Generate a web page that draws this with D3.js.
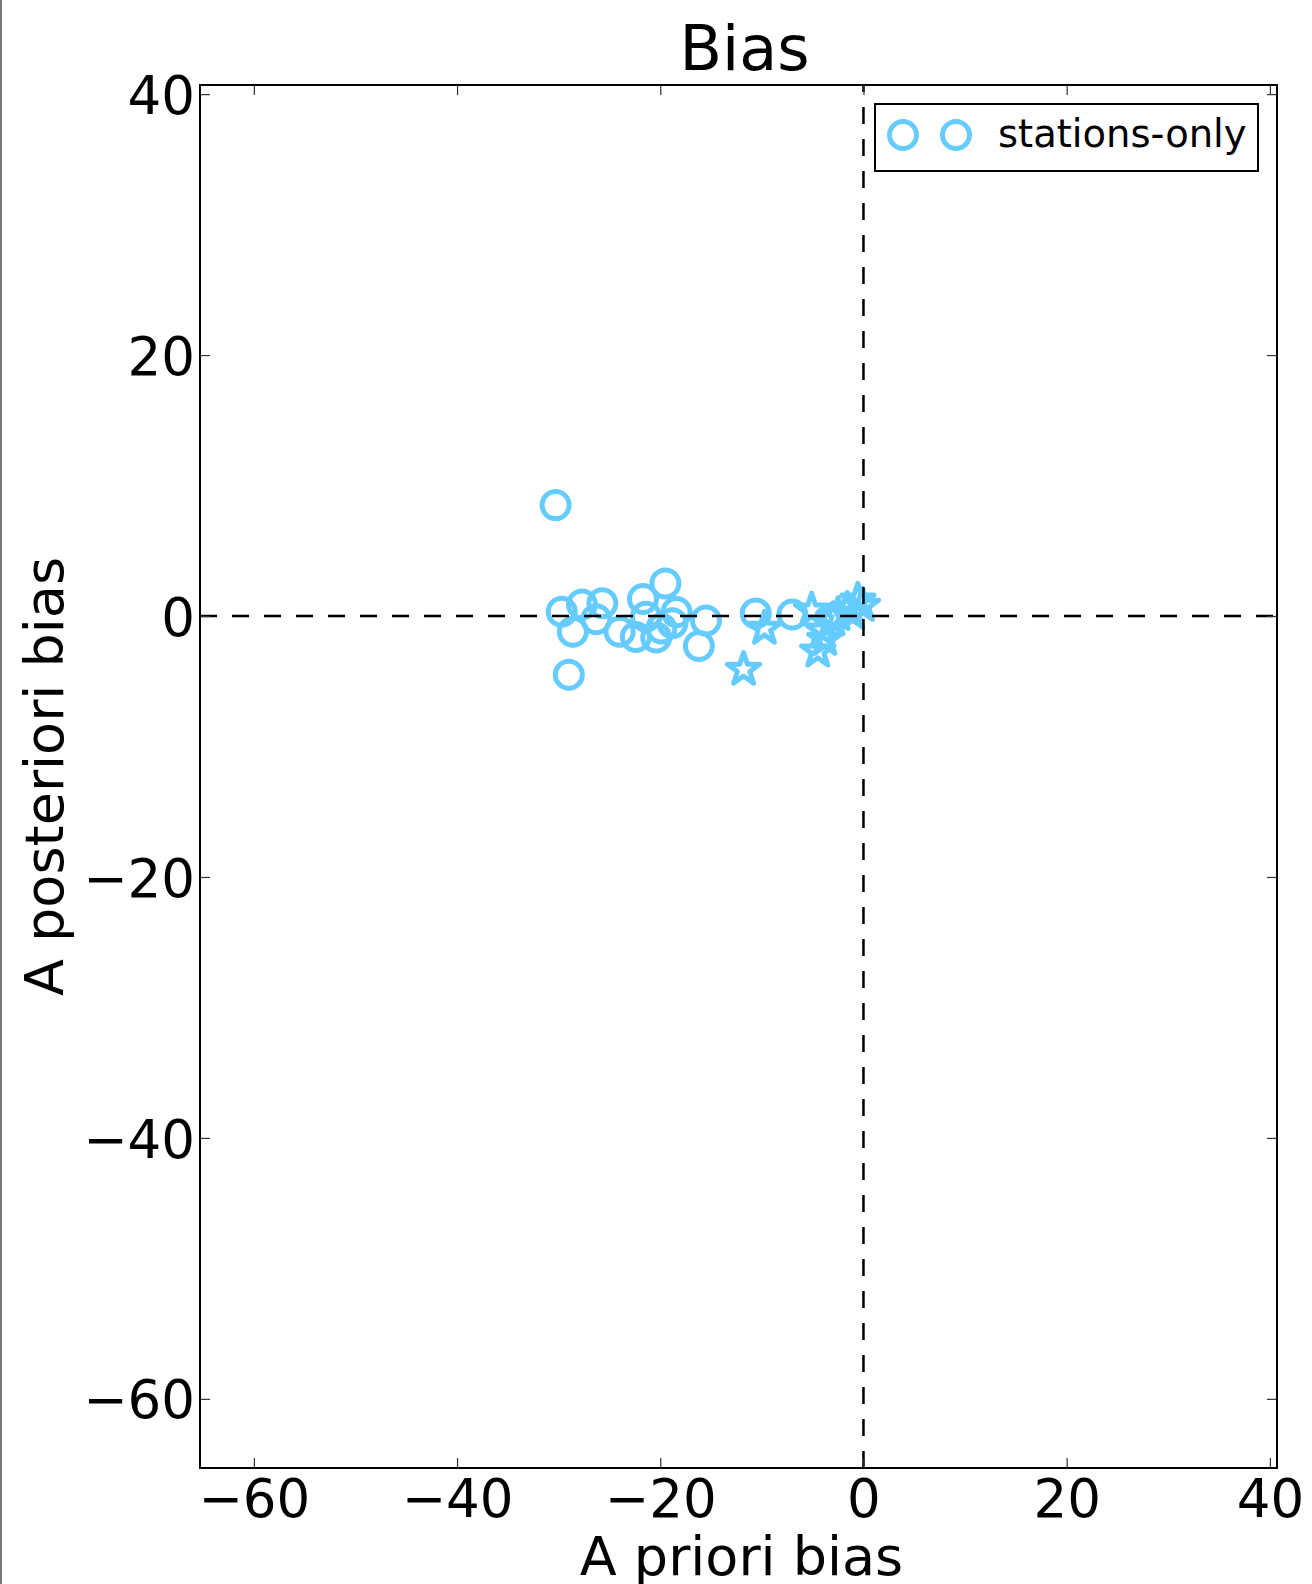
<!DOCTYPE html>
<html>
<head>
<meta charset="utf-8">
<script src="https://cdn.jsdelivr.net/npm/d3@7"></script>
<style>
  html, body { margin: 0; padding: 0; background: #fff; }
  svg { display: block; font-family: "DejaVu Sans", sans-serif; }
</style>
</head>
<body>
<svg id="chart" width="1312" height="1584"></svg>
<script>
// Station bias values (a priori vs. a posteriori)
const stationsX = [-30.3, -29.7, -29.0, -28.6, -27.7, -26.3, -25.7, -24.0, -22.4, -21.7,
                   -21.4, -20.4, -19.9, -19.5, -18.8, -18.4, -16.2, -15.5, -10.6, -7.0];
const stationsY = [8.5, 0.33, -4.5, -1.2, 0.88, -0.25, 0.98, -1.2, -1.6, 1.3,
                   -0.05, -1.65, -0.95, 2.5, -0.55, 0.3, -2.3, -0.35, 0.2, 0.12];
// Second group (star markers)
const starsX = [-11.8, -9.75, -5.1, -4.5, -4.0, -3.8, -3.0, -2.5, -1.6, -1.05, -0.56, -0.1];
const starsY = [-4.1, -0.95, 0.45, -2.7, -1.1, -1.8, -0.3, 0.1, 0.5, 0.2, 1.2, 0.8];

const xTicks = [-60, -40, -20, 0, 20, 40];
const yTicks = [-60, -40, -20, 0, 20, 40];
const xDomain = [-65.3, 40.7];
const yDomain = [-65.3, 40.7];

const titleText = "Bias";
const xLabelText = "A priori bias";
const yLabelText = "A posteriori bias";
const legendLabel = "stations-only";

const color = "#66ccff";
const fmt = v => (v < 0 ? "\u2212" + Math.abs(v) : String(v));

const svg = d3.select("#chart");
const plotL = 200, plotR = 1277, plotT = 85, plotB = 1468;

const x = d3.scaleLinear().domain(xDomain).range([plotL, plotR]);
const y = d3.scaleLinear().domain(yDomain).range([plotB, plotT]);

// thin border at the far left of the figure
svg.append("line").attr("x1", 1).attr("x2", 1).attr("y1", 0).attr("y2", 1584)
  .attr("stroke", "#777").attr("stroke-width", 2);

const plot = svg.append("g");

// circles
plot.append("g").selectAll("circle")
  .data(d3.zip(stationsX, stationsY))
  .join("circle")
  .attr("cx", d => x(d[0])).attr("cy", d => y(d[1])).attr("r", 13.5)
  .attr("fill", "none").attr("stroke", color).attr("stroke-width", 5);

// five-pointed star path
function starPath(R) {
  const r = R * 0.381966;
  const pts = [];
  for (let i = 0; i < 10; i++) {
    const a = -Math.PI / 2 + i * Math.PI / 5;
    const rad = i % 2 === 0 ? R : r;
    pts.push([rad * Math.cos(a), rad * Math.sin(a)]);
  }
  return d3.line()(pts) + "Z";
}

plot.append("g").selectAll("path")
  .data(d3.zip(starsX, starsY))
  .join("path")
  .attr("transform", d => `translate(${x(d[0])},${y(d[1])})`)
  .attr("d", starPath(17))
  .attr("fill", "none").attr("stroke", color).attr("stroke-width", 5)
  .attr("stroke-linejoin", "round");

// reference lines at zero
plot.append("line")
  .attr("x1", plotL).attr("x2", plotR).attr("y1", y(0)).attr("y2", y(0))
  .attr("stroke", "#000").attr("stroke-width", 2.5).attr("stroke-dasharray", "17,15");
plot.append("line")
  .attr("x1", x(0)).attr("x2", x(0)).attr("y1", plotB).attr("y2", plotT)
  .attr("stroke", "#000").attr("stroke-width", 2.5).attr("stroke-dasharray", "17,15");

// axes with inward ticks on all four sides
const tickLen = 10;
const axB = svg.append("g").attr("transform", `translate(0,${plotB})`)
  .call(d3.axisBottom(x).tickValues(xTicks).tickFormat(fmt).tickSizeInner(-tickLen).tickSizeOuter(0).tickPadding(11));
const axT = svg.append("g").attr("transform", `translate(0,${plotT})`)
  .call(d3.axisTop(x).tickValues(xTicks).tickFormat("").tickSizeInner(-tickLen).tickSizeOuter(0));
const axL = svg.append("g").attr("transform", `translate(${plotL},0)`)
  .call(d3.axisLeft(y).tickValues(yTicks).tickFormat(fmt).tickSizeInner(-tickLen).tickSizeOuter(0).tickPadding(5));
const axR = svg.append("g").attr("transform", `translate(${plotR},0)`)
  .call(d3.axisRight(y).tickValues(yTicks).tickFormat("").tickSizeInner(-tickLen).tickSizeOuter(0));

[axB, axT, axL, axR].forEach(a => {
  a.select(".domain").remove();
  a.selectAll(".tick line").attr("stroke", "#333").attr("stroke-width", 1.2);
  a.selectAll("text").attr("font-family", "DejaVu Sans").attr("font-size", 53).attr("fill", "#000");
});
axL.selectAll("text").attr("dy", "0.36em");
axB.selectAll("text").attr("dy", "0.71em");

// frame
svg.append("rect").attr("x", plotL).attr("y", plotT)
  .attr("width", plotR - plotL).attr("height", plotB - plotT)
  .attr("fill", "none").attr("stroke", "#000").attr("stroke-width", 2);

// title and axis labels
svg.append("text").attr("x", (plotL + plotR) / 2 + 6).attr("y", 70)
  .attr("text-anchor", "middle").attr("font-size", 62).text(titleText);
svg.append("text").attr("x", (plotL + plotR) / 2 + 3).attr("y", 1575)
  .attr("text-anchor", "middle").attr("font-size", 54).text(xLabelText);
svg.append("text")
  .attr("transform", `translate(63,${(plotT + plotB) / 2}) rotate(-90)`)
  .attr("text-anchor", "middle").attr("font-size", 54).text(yLabelText);

// legend
const lg = svg.append("g");
lg.append("rect").attr("x", 875).attr("y", 104).attr("width", 383).attr("height", 67)
  .attr("fill", "#fff").attr("stroke", "#000").attr("stroke-width", 2);
lg.selectAll("circle").data([903, 956]).join("circle")
  .attr("cx", d => d).attr("cy", 135).attr("r", 13.5)
  .attr("fill", "none").attr("stroke", color).attr("stroke-width", 5);
lg.append("text").attr("x", 998).attr("y", 147).attr("font-size", 38.5).text(legendLabel);
</script>
</body>
</html>
